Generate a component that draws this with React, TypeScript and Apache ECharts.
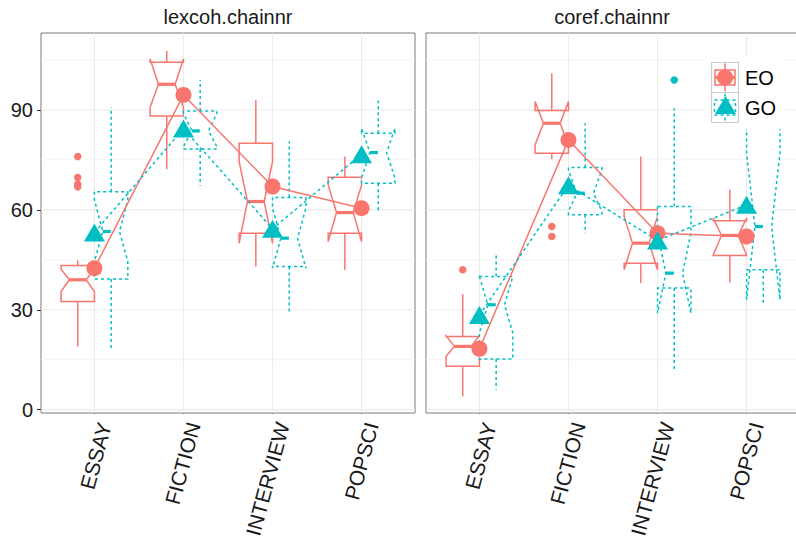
import React, { useEffect, useRef } from 'react';
import * as echarts from 'echarts';

const CATEGORIES = ['ESSAY', 'FICTION', 'INTERVIEW', 'POPSCI'];
const FACETS = ['lexcoh.chainnr', 'coref.chainnr'];
const GROUPS = ['EO', 'GO'];
const Y_TICKS = [0, 30, 60, 90];
const Y_MINOR = [15, 45, 75, 105];

// per category: [whiskerLow, Q1, notchLow, median, notchHigh, Q3, whiskerHigh]
const LEX_EO_BOX = [
  [19, 32.5, 35.5, 39, 42.2, 43.3, 44.8],
  [72.2, 88.2, 90.8, 97.7, 105.3, 104.3, 107.8],
  [43, 53, 50, 62.5, 74.5, 80, 93],
  [42, 53, 50.5, 59.2, 67.5, 69.8, 76],
];
const LEX_GO_BOX = [
  [18.2, 39.2, 44.5, 53.5, 63, 65.4, 90.8],
  [67.2, 78.3, 79, 83.7, 89, 89.7, 99],
  [29, 43, 42.5, 51.5, 60.5, 63.7, 80.5],
  [59, 68, 69.5, 77.2, 84.5, 83, 92.8],
];
const COREF_EO_BOX = [
  [4, 13, 16, 19, 22.2, 22, 34.7],
  [75.2, 77, 79.5, 86, 92.5, 89.8, 101],
  [38, 44, 42, 50, 58, 60, 76],
  [38.2, 46.3, 46.5, 52.3, 57.5, 56.7, 66],
];
const COREF_GO_BOX = [
  [6, 15.2, 23, 31.5, 40, 40, 47],
  [53, 58.5, 59.5, 65, 72, 72.7, 86],
  [12, 36.5, 29, 41, 53, 61, 90.5],
  [32, 42, 33, 55, 77, 85, 92],
];

// outliers: [category index, value]
const LEX_EO_OUT = [[0, 76], [0, 69.7], [0, 67.7], [0, 66.9]];
const LEX_GO_OUT: number[][] = [];
const COREF_EO_OUT = [[0, 42], [1, 55], [1, 52]];
const COREF_GO_OUT = [[2, 99]];

// group means
const LEX_EO_MEAN = [42.5, 94.5, 67, 60.5];
const LEX_GO_MEAN = [53.2, 84.4, 54.3, 76.7];
const COREF_EO_MEAN = [18.3, 81, 53, 52];
const COREF_GO_MEAN = [28.4, 67.4, 50.8, 61.5];

const EO_COLOR = '#F8766D';
const GO_COLOR = '#00BFC4';
const FONT = "'Liberation Sans', Arial, Helvetica, sans-serif";
const TEXT_COLOR = '#1a1a1a';
const BOX_WIDTH = 0.375;
const DODGE = 0.1875;
const DOT = [3, 3];

const FACET_DATA = [
  { eoBox: LEX_EO_BOX, goBox: LEX_GO_BOX, eoOut: LEX_EO_OUT, goOut: LEX_GO_OUT, eoMean: LEX_EO_MEAN, goMean: LEX_GO_MEAN },
  { eoBox: COREF_EO_BOX, goBox: COREF_GO_BOX, eoOut: COREF_EO_OUT, goOut: COREF_GO_OUT, eoMean: COREF_EO_MEAN, goMean: COREF_GO_MEAN },
];

function gridRender(params: any, api: any) {
  const kind = api.value(0);
  const v = api.value(1);
  const cs = params.coordSys;
  if (kind === 2) {
    const px = api.coord([v, 0])[0];
    return { type: 'line', shape: { x1: px, y1: cs.y, x2: px, y2: cs.y + cs.height }, style: { stroke: '#ebebeb', lineWidth: 1.1 } };
  }
  const py = api.coord([1, v])[1];
  return {
    type: 'line',
    shape: { x1: cs.x, y1: py, x2: cs.x + cs.width, y2: py },
    style: { stroke: kind === 0 ? '#ebebeb' : '#f4f4f4', lineWidth: kind === 0 ? 1.1 : 1 },
  };
}

function makeBoxRender(offset: number, color: string, dotted: boolean) {
  return (params: any, api: any) => {
    const x = api.value(0) + offset;
    const wLow = api.value(1), q1 = api.value(2), nLow = api.value(3), med = api.value(4);
    const nHigh = api.value(5), q3 = api.value(6), wHigh = api.value(7);
    const halfW = api.size([BOX_WIDTH, 0])[0] / 2;
    const xc = api.coord([x, med])[0];
    const y = (v: number) => api.coord([x, v])[1];
    const xmin = xc - halfW;
    const xmax = xc + halfW;
    const indent = halfW / 2;
    const pts = [
      [xmin, y(q3)], [xmin, y(nHigh)], [xmin + indent, y(med)], [xmin, y(nLow)], [xmin, y(q1)],
      [xmax, y(q1)], [xmax, y(nLow)], [xmax - indent, y(med)], [xmax, y(nHigh)], [xmax, y(q3)],
    ];
    const ls: any = { stroke: color, lineWidth: 1.5, fill: null, lineDash: dotted ? DOT : null };
    return {
      type: 'group',
      children: [
        { type: 'line', shape: { x1: xc, y1: y(q3), x2: xc, y2: y(wHigh) }, style: ls },
        { type: 'line', shape: { x1: xc, y1: y(q1), x2: xc, y2: y(wLow) }, style: ls },
        { type: 'polygon', shape: { points: pts }, style: { ...ls, fill: '#ffffff' } },
        {
          type: 'line',
          shape: { x1: xmin + indent, y1: y(med), x2: xmax - indent, y2: y(med) },
          style: { stroke: color, lineWidth: 3.2, lineDash: dotted ? [8, 30] : null },
        },
      ],
    };
  };
}

function buildOption() {
  const grids = [
    { left: 41, top: 33, width: 374, height: 380 },
    { left: 426, top: 33, width: 374, height: 380 },
  ].map((g) => ({
    ...g,
    show: true,
    borderColor: '#7a7a7a',
    borderWidth: 1,
    backgroundColor: '#fff',
    containLabel: false,
    outerBoundsMode: 'none',
  }));

  const xAxes = FACETS.map((_, f) => ({
    type: 'value',
    gridIndex: f,
    min: 0.4,
    max: 4.6,
    axisLine: { show: false },
    splitLine: { show: false },
    axisTick: { show: true, customValues: [1, 2, 3, 4], length: 4, lineStyle: { color: '#333' } },
    axisLabel: {
      customValues: [1, 2, 3, 4],
      formatter: (v: number) => CATEGORIES[Math.round(v) - 1] ?? '',
      rotate: 75,
      fontSize: 21,
      color: TEXT_COLOR,
      fontFamily: FONT,
      margin: 7,
      verticalAlign: 'top',
    },
  }));

  const yAxes = FACETS.map((_, f) => ({
    type: 'value',
    gridIndex: f,
    min: -1,
    max: 113.1,
    axisLine: { show: false },
    splitLine: { show: false },
    axisTick: { show: f === 0, customValues: Y_TICKS, length: 4, lineStyle: { color: '#333' } },
    axisLabel: {
      show: f === 0,
      customValues: Y_TICKS,
      fontSize: 20,
      color: TEXT_COLOR,
      fontFamily: FONT,
      margin: 8,
    },
  }));

  const gridLineData = [
    ...Y_TICKS.map((v) => [0, v]),
    ...Y_MINOR.map((v) => [1, v]),
    ...CATEGORIES.map((_, i) => [2, i + 1]),
  ];

  const series: any[] = [];
  FACET_DATA.forEach((fd, f) => {
    series.push({
      type: 'custom', name: 'grid' + f, xAxisIndex: f, yAxisIndex: f, z: 1, silent: true,
      renderItem: gridRender, data: gridLineData,
    });
    [
      { box: fd.eoBox, out: fd.eoOut, off: -DODGE, color: EO_COLOR, dotted: false },
      { box: fd.goBox, out: fd.goOut, off: DODGE, color: GO_COLOR, dotted: true },
    ].forEach((g, gi) => {
      series.push({
        type: 'custom', name: GROUPS[gi], xAxisIndex: f, yAxisIndex: f, z: 2,
        renderItem: makeBoxRender(g.off, g.color, g.dotted),
        encode: { x: 0, y: [1, 2, 3, 4, 5, 6, 7] },
        data: g.box.map((row, i) => [i + 1, ...row]),
      });
      series.push({
        type: 'scatter', name: GROUPS[gi] + ' outliers', xAxisIndex: f, yAxisIndex: f, z: 3,
        symbol: 'circle', symbolSize: 7.5, itemStyle: { color: g.color, opacity: 1 },
        data: g.out.map(([ci, v]) => [ci + 1 + g.off, v]),
      });
    });
    [
      { mean: fd.eoMean, color: EO_COLOR, dotted: false, sym: 'circle', size: 16 as any, name: 'EO' },
      { mean: fd.goMean, color: GO_COLOR, dotted: true, sym: 'triangle', size: [21, 18] as any, name: 'GO' },
    ].forEach((g) => {
      series.push({
        type: 'line', name: g.name + ' mean', xAxisIndex: f, yAxisIndex: f, z: 4,
        symbol: g.sym, symbolSize: g.size, showSymbol: true,
        itemStyle: { color: g.color, opacity: 1 },
        lineStyle: { color: g.color, width: 1.5, type: g.dotted ? DOT : 'solid' },
        data: g.mean.map((v, i) => [i + 1, v]),
      });
    });
  });

  const lx = 711.5, ly = 62.5, kw = 27, kh = 30;
  const graphic: any[] = [
    { type: 'text', x: 228, y: 16.5, style: { text: FACETS[0], fontSize: 20, fill: TEXT_COLOR, fontFamily: FONT, textAlign: 'center', textVerticalAlign: 'middle' } },
    { type: 'text', x: 612, y: 16.5, style: { text: FACETS[1], fontSize: 20, fill: TEXT_COLOR, fontFamily: FONT, textAlign: 'center', textVerticalAlign: 'middle' } },
    { type: 'rect', z: 50, shape: { x: 705, y: 56, width: 80, height: 73 }, style: { fill: '#ffffff' } },
    // EO key
    { type: 'rect', z: 51, shape: { x: lx, y: ly, width: kw, height: kh }, style: { fill: '#ffffff', stroke: '#cccccc', lineWidth: 1.2 } },
    { type: 'line', z: 52, shape: { x1: lx + 13.5, y1: ly + 1, x2: lx + 13.5, y2: ly + kh - 1 }, style: { stroke: EO_COLOR, lineWidth: 1.5 } },
    { type: 'rect', z: 53, shape: { x: lx + 3.5, y: ly + 7.5, width: 20, height: 15 }, style: { fill: '#ffffff', stroke: EO_COLOR, lineWidth: 1.5 } },
    { type: 'line', z: 54, shape: { x1: lx + 3.5, y1: ly + 15, x2: lx + 23.5, y2: ly + 15 }, style: { stroke: EO_COLOR, lineWidth: 3 } },
    { type: 'circle', z: 55, shape: { cx: lx + 13.5, cy: ly + 15, r: 8 }, style: { fill: EO_COLOR } },
    { type: 'text', z: 55, x: 745, y: ly + 15.5, style: { text: GROUPS[0], fontSize: 20, fill: '#000', fontFamily: FONT, textVerticalAlign: 'middle' } },
    // GO key
    { type: 'rect', z: 51, shape: { x: lx, y: ly + kh, width: kw, height: kh }, style: { fill: '#ffffff', stroke: '#cccccc', lineWidth: 1.2 } },
    { type: 'line', z: 52, shape: { x1: lx + 13.5, y1: ly + kh + 1, x2: lx + 13.5, y2: ly + 2 * kh - 1 }, style: { stroke: GO_COLOR, lineWidth: 1.5, lineDash: DOT } },
    { type: 'rect', z: 53, shape: { x: lx + 3, y: ly + kh + 7.5, width: 21, height: 15 }, style: { fill: '#ffffff', stroke: GO_COLOR, lineWidth: 1.5, lineDash: DOT } },
    { type: 'polygon', z: 55, shape: { points: [[lx + 14, ly + kh + 3.5], [lx + 24.5, ly + kh + 21.5], [lx + 3.5, ly + kh + 21.5]] }, style: { fill: GO_COLOR } },
    { type: 'text', z: 55, x: 745, y: ly + kh + 15.5, style: { text: GROUPS[1], fontSize: 20, fill: '#000', fontFamily: FONT, textVerticalAlign: 'middle' } },
  ];

  return {
    animation: false,
    backgroundColor: '#ffffff',
    textStyle: { fontFamily: FONT },
    grid: grids,
    xAxis: xAxes,
    yAxis: yAxes,
    series,
    graphic,
  };
}

export default function App() {
  const ref = useRef<HTMLDivElement>(null);
  useEffect(() => {
    if (!ref.current) return;
    const chart = echarts.init(ref.current, undefined, { renderer: 'svg' });
    chart.setOption(buildOption() as any);
    return () => chart.dispose();
  }, []);
  return <div ref={ref} style={{ position: 'absolute', left: 0, top: 0, width: 796, height: 538 }} />;
}
